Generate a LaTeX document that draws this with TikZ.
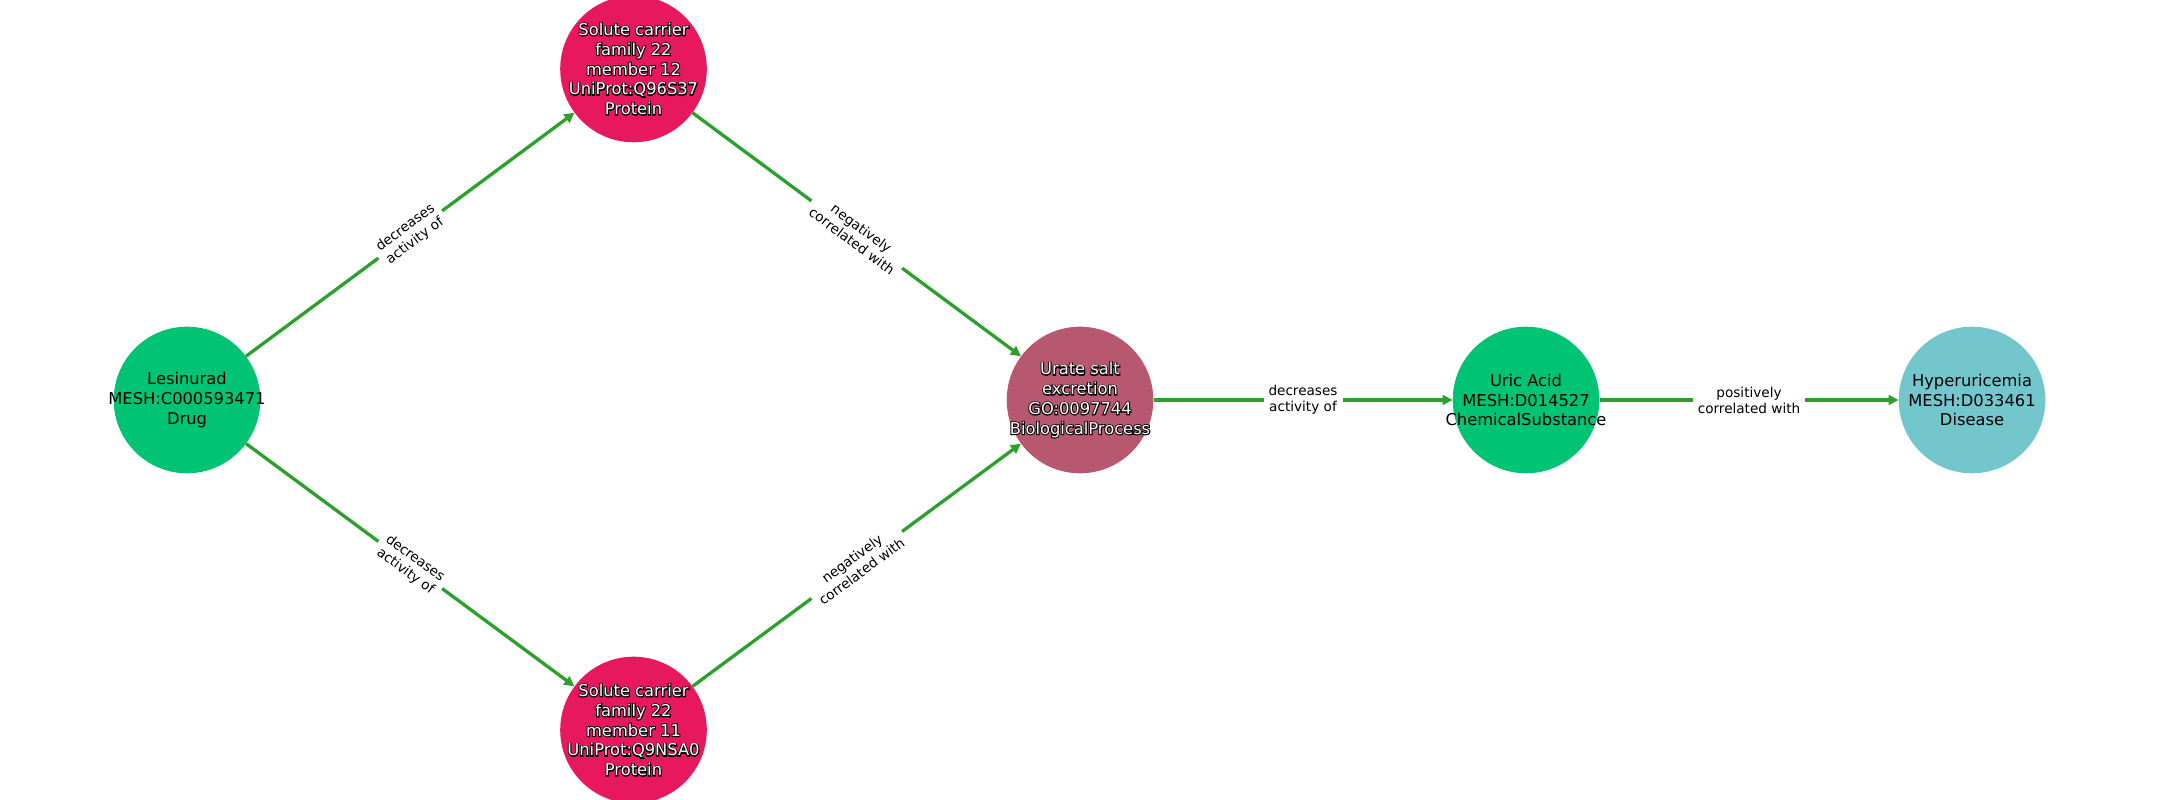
\documentclass[tikz,border=0pt]{standalone}
\usepackage{fontspec}
\setmainfont{DejaVu Sans}
\newfontfamily\outlinefont[FakeBold=12]{DejaVu Sans}
\usetikzlibrary{arrows.meta}
\definecolor{drugc}{HTML}{00C373}
\definecolor{protc}{HTML}{E8185F}
\definecolor{procc}{HTML}{B85870}
\definecolor{disc}{HTML}{72C6CC}
\definecolor{edgec}{HTML}{2CA02C}
\tikzset{
  entity/.style={circle, minimum size=146.6pt, inner sep=0pt},
  nodetext/.style={align=center, inner sep=0pt, font=\fontsize{16.3}{19.8}\selectfont},
  halotext/.style={align=center, inner sep=0pt, text=black, font=\outlinefont\fontsize{16.3}{19.8}\selectfont},
  lighttext/.style={nodetext, text=white},
  rel/.style={draw=edgec, line width=3.3pt, -{Triangle[length=10pt,width=10pt]}},
  rellabel/.style={midway, sloped, fill=white, inner xsep=5pt, inner ysep=2pt, align=center,
    font=\fontsize{13.6}{16}\selectfont, text=black}
}
\begin{document}
\begin{tikzpicture}[x=1pt,y=1pt]
\useasboundingbox (0,0) rectangle (2160,800);
\node[entity, fill=drugc] (les) at (187,400) {};
\node[entity, fill=protc] (s12) at (633.5,731) {};
\node[entity, fill=protc] (s11) at (633.5,70) {};
\node[entity, fill=procc] (ure) at (1080,400) {};
\node[entity, fill=drugc] (uric) at (1526,400) {};
\node[entity, fill=disc] (hyp) at (1972,400) {};
\node[nodetext] (lest) at (les) {Lesinurad\\MESH:C000593471\\Drug};
\node[halotext] (s12h) at (s12) {Solute carrier\\family 22\\member 12\\UniProt:Q96S37\\Protein};
\node[lighttext] (s12t) at (s12) {Solute carrier\\family 22\\member 12\\UniProt:Q96S37\\Protein};
\node[halotext] (s11h) at (s11) {Solute carrier\\family 22\\member 11\\UniProt:Q9NSA0\\Protein};
\node[lighttext] (s11t) at (s11) {Solute carrier\\family 22\\member 11\\UniProt:Q9NSA0\\Protein};
\node[halotext] (ureh) at (ure) {Urate salt\\excretion\\GO:0097744\\BiologicalProcess};
\node[lighttext] (uret) at (ure) {Urate salt\\excretion\\GO:0097744\\BiologicalProcess};
\node[nodetext] (urict) at (uric) {Uric Acid\\MESH:D014527\\ChemicalSubstance};
\node[nodetext] (hypt) at (hyp) {Hyperuricemia\\MESH:D033461\\Disease};
\draw[rel] (les) -- node[rellabel] {decreases\\activity of} (s12);
\draw[rel] (les) -- node[rellabel] {decreases\\activity of} (s11);
\draw[rel] (s12) -- node[rellabel] {negatively\\correlated with} (ure);
\draw[rel] (s11) -- node[rellabel] {negatively\\correlated with} (ure);
\draw[rel] (ure) -- node[rellabel] {decreases\\activity of} (uric);
\draw[rel] (uric) -- node[rellabel] {positively\\correlated with} (hyp);
\end{tikzpicture}
\end{document}
